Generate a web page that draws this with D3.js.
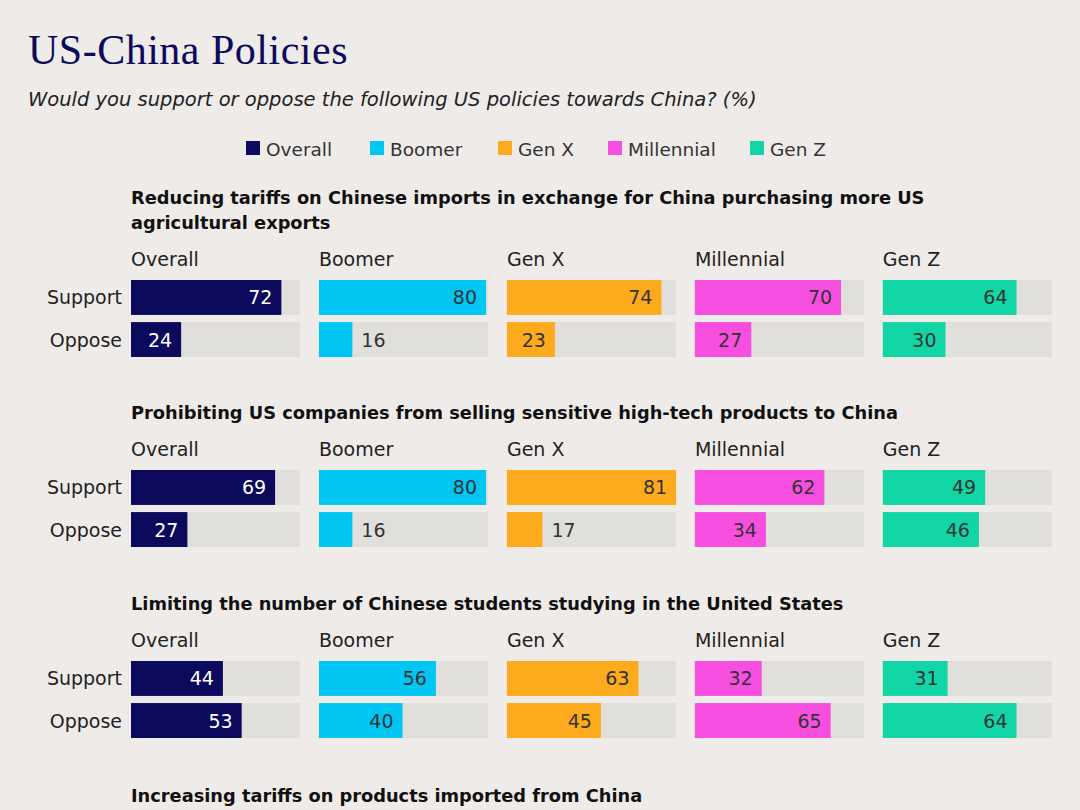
<!DOCTYPE html>
<html><head><meta charset="utf-8">
<script src="https://cdn.jsdelivr.net/npm/d3@7"></script>
<style>
body{margin:0;background:#efebe8;}
svg{display:block;font-family:"DejaVu Sans",sans-serif;}
</style></head>
<body><svg id="c" width="1080" height="810"></svg>
<script>
var groups = ['Overall', 'Boomer', 'Gen X', 'Millennial', 'Gen Z'];
var colors = ['#0b0a5c', '#00c6f4', '#fdaa1c', '#f64fe0', '#12d5a6'];
var answers = ['Support', 'Oppose'];
var questions = [
  ['Reducing tariffs on Chinese imports in exchange for China purchasing more US', 'agricultural exports'],
  ['Prohibiting US companies from selling sensitive high-tech products to China'],
  ['Limiting the number of Chinese students studying in the United States'],
  ['Increasing tariffs on products imported from China']
];
var support = [[72, 80, 74, 70, 64], [69, 80, 81, 62, 49], [44, 56, 63, 32, 31]];
var oppose  = [[24, 16, 23, 27, 30], [27, 16, 17, 34, 46], [53, 40, 45, 65, 64]];

var svg = d3.select('#c');
svg.append('text').attr('x', 28).attr('y', 64)
  .style('font-family', '"Liberation Serif","DejaVu Serif",serif')
  .style('font-size', '42px').style('letter-spacing', '0.5px').attr('fill', '#0b0a5c').text('US-China Policies');
svg.append('text').attr('x', 28).attr('y', 106)
  .style('font-style', 'italic').style('font-size', '19.5px').attr('fill', '#222')
  .text('Would you support or oppose the following US policies towards China? (%)');

// legend
var lx = [246, 370, 498, 608, 750];
groups.forEach(function(g, i) {
  svg.append('rect').attr('x', lx[i]).attr('y', 141).attr('width', 14).attr('height', 14).attr('fill', colors[i]);
  svg.append('text').attr('x', lx[i] + 20).attr('y', 156).style('font-size', '18.5px').attr('fill', '#333').text(g);
});

var panelX = d3.scaleBand().domain(groups).range([131, 1052]).paddingInner(0.1);
var x = d3.scaleLinear().domain([0, 81]).range([0, panelX.bandwidth()]);
var tops = [190, 405, 596, 788];

questions.forEach(function(q, k) {
  var t0 = tops[k];
  q.forEach(function(line, j) {
    svg.append('text').attr('x', 131).attr('y', t0 + 14 + j * 25)
      .style('font-size', '17.8px').style('font-weight', 700).attr('fill', '#111').text(line);
  });
  if (k >= support.length) return;
  var base = t0 + (q.length - 1) * 25 + 44;
  var y = d3.scaleBand().domain(answers).range([base + 21, base + 98]).paddingInner(0.17).paddingOuter(0);
  answers.forEach(function(a) {
    svg.append('text').attr('x', 122).attr('y', y(a) + y.bandwidth() / 2 + 7)
      .attr('text-anchor', 'end').style('font-size', '19px').attr('fill', '#222').text(a);
  });
  groups.forEach(function(g, i) {
    var px = panelX(g);
    svg.append('text').attr('x', px).attr('y', base + 7).style('font-size', '19px').attr('fill', '#222').text(g);
    [support[k][i], oppose[k][i]].forEach(function(v, r) {
      var yy = y(answers[r]);
      svg.append('rect').attr('x', px).attr('y', yy).attr('width', panelX.bandwidth()).attr('height', y.bandwidth()).attr('fill', '#e1dfdc');
      svg.append('rect').attr('x', px).attr('y', yy).attr('width', x(v)).attr('height', y.bandwidth()).attr('fill', colors[i]);
      var inside = v >= 20;
      svg.append('text')
        .attr('x', inside ? px + x(v) - 9 : px + x(v) + 9)
        .attr('y', yy + y.bandwidth() / 2 + 7)
        .attr('text-anchor', inside ? 'end' : 'start')
        .style('font-size', '19px')
        .attr('fill', i === 0 ? '#fff' : '#333')
        .text(v);
    });
  });
});
</script></body></html>
